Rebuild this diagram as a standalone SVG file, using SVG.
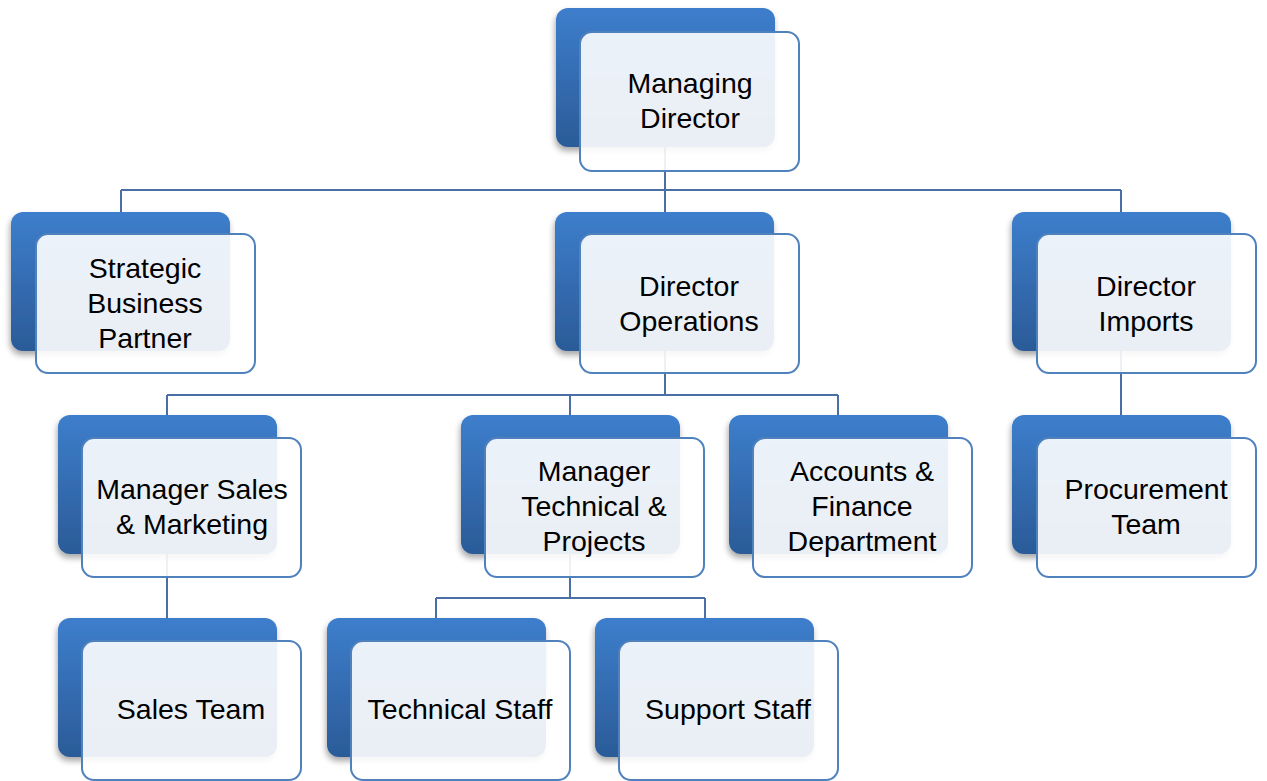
<svg xmlns="http://www.w3.org/2000/svg" width="1267" height="781" viewBox="0 0 1267 781">
<defs>
<linearGradient id="bg" x1="0" y1="0" x2="0" y2="1">
<stop offset="0" stop-color="#3D7ECC"/>
<stop offset="1" stop-color="#2B5B98"/>
</linearGradient>
<filter id="sh" x="-10%" y="-10%" width="125%" height="130%">
<feGaussianBlur in="SourceAlpha" stdDeviation="3"/>
<feOffset dx="-1" dy="4"/>
<feComponentTransfer><feFuncA type="linear" slope="0.35"/></feComponentTransfer>
<feMerge><feMergeNode/><feMergeNode in="SourceGraphic"/></feMerge>
</filter>
</defs>
<style>
.back{fill:url(#bg);filter:url(#sh);}
.front{fill:#FFFFFF;fill-opacity:0.9;stroke:#4F81BD;stroke-width:2;}
.lbl{font-family:"Liberation Sans",Arial,sans-serif;font-size:28.5px;fill:#000;text-anchor:middle;}
.conn{fill:none;stroke:#4A6FA5;stroke-width:2;}
</style>
<rect width="1267" height="781" fill="#FFFFFF"/>
<g id="connectors" class="conn">
<path d="M665 147 V190 M121 190 H1121 M121 190 V212 M665 190 V212 M1121 190 V212"/>
<path d="M665 350 V395 M167 395 H838 M167 395 V415 M570 395 V415 M838 395 V415"/>
<path d="M1121 350 V415"/>
<path d="M167 553 V618"/>
<path d="M570 553 V598 M436 598 H705 M436 598 V618 M705 598 V618"/>
</g>
<g id="managing-director">
<rect class="back" x="556" y="8" width="219" height="139" rx="12"/>
<rect class="front" x="580" y="32" width="219" height="139" rx="12"/>
<text class="lbl" x="690" y="93">Managing</text>
<text class="lbl" x="690" y="128">Director</text>
</g>
<g id="strategic-business-partner">
<rect class="back" x="11" y="212" width="219" height="139" rx="12"/>
<rect class="front" x="36" y="234" width="219" height="139" rx="12"/>
<text class="lbl" x="145" y="278">Strategic</text>
<text class="lbl" x="145" y="313">Business</text>
<text class="lbl" x="145" y="348">Partner</text>
</g>
<g id="director-operations">
<rect class="back" x="555" y="212" width="219" height="139" rx="12"/>
<rect class="front" x="580" y="234" width="219" height="139" rx="12"/>
<text class="lbl" x="689" y="296">Director</text>
<text class="lbl" x="689" y="331">Operations</text>
</g>
<g id="director-imports">
<rect class="back" x="1012" y="212" width="219" height="139" rx="12"/>
<rect class="front" x="1037" y="234" width="219" height="139" rx="12"/>
<text class="lbl" x="1146" y="296">Director</text>
<text class="lbl" x="1146" y="331">Imports</text>
</g>
<g id="manager-sales-marketing">
<rect class="back" x="58" y="415" width="219" height="139" rx="12"/>
<rect class="front" x="82" y="438" width="219" height="139" rx="12"/>
<text class="lbl" x="192" y="499">Manager Sales</text>
<text class="lbl" x="192" y="534">&amp; Marketing</text>
</g>
<g id="manager-technical-projects">
<rect class="back" x="461" y="415" width="219" height="139" rx="12"/>
<rect class="front" x="485" y="438" width="219" height="139" rx="12"/>
<text class="lbl" x="594" y="481">Manager</text>
<text class="lbl" x="594" y="516">Technical &amp;</text>
<text class="lbl" x="594" y="551">Projects</text>
</g>
<g id="accounts-finance">
<rect class="back" x="729" y="415" width="219" height="139" rx="12"/>
<rect class="front" x="753" y="438" width="219" height="139" rx="12"/>
<text class="lbl" x="862" y="481">Accounts &amp;</text>
<text class="lbl" x="862" y="516">Finance</text>
<text class="lbl" x="862" y="551">Department</text>
</g>
<g id="procurement-team">
<rect class="back" x="1012" y="415" width="219" height="139" rx="12"/>
<rect class="front" x="1037" y="438" width="219" height="139" rx="12"/>
<text class="lbl" x="1146" y="499">Procurement</text>
<text class="lbl" x="1146" y="534">Team</text>
</g>
<g id="sales-team">
<rect class="back" x="58" y="618" width="219" height="139" rx="12"/>
<rect class="front" x="82" y="641" width="219" height="139" rx="12"/>
<text class="lbl" x="191" y="719">Sales Team</text>
</g>
<g id="technical-staff">
<rect class="back" x="327" y="618" width="219" height="139" rx="12"/>
<rect class="front" x="351" y="641" width="219" height="139" rx="12"/>
<text class="lbl" x="460" y="719">Technical Staff</text>
</g>
<g id="support-staff">
<rect class="back" x="595" y="618" width="219" height="139" rx="12"/>
<rect class="front" x="619" y="641" width="219" height="139" rx="12"/>
<text class="lbl" x="728" y="719">Support Staff</text>
</g>
</svg>
